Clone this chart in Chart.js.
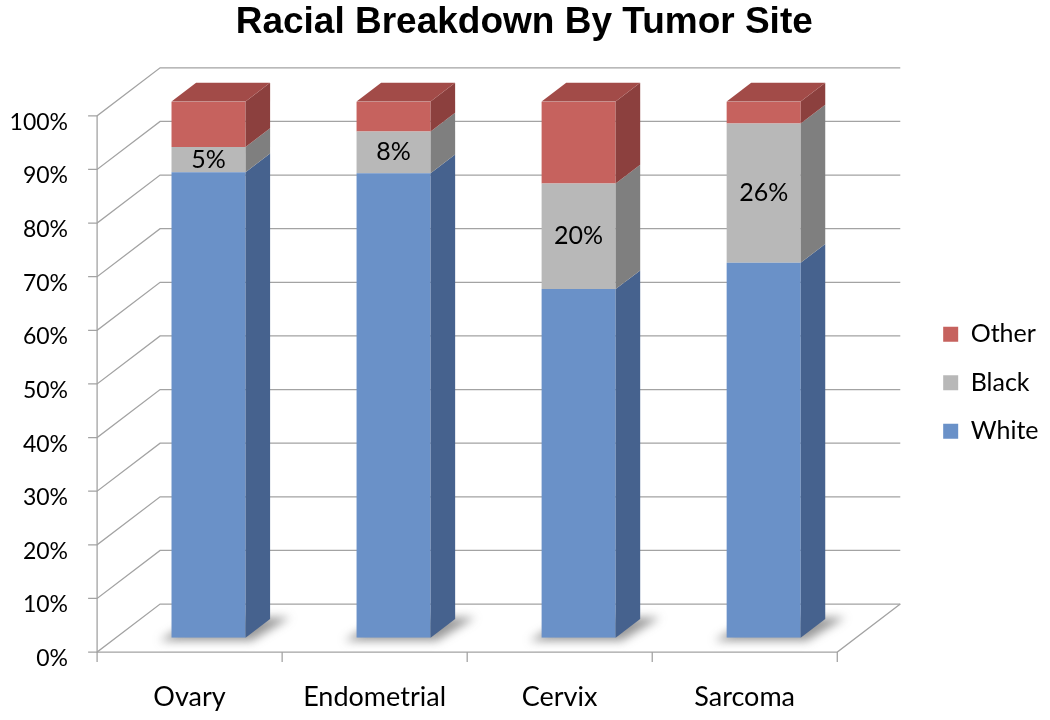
<!DOCTYPE html>
<html>
<head>
<meta charset="utf-8">
<script src="https://cdn.jsdelivr.net/npm/chart.js@4.4.1/dist/chart.umd.min.js"></script>
<style>
    body { margin: 0; background: #fff; }
    #wrap { width: 1050px; height: 720px; position: relative; }
</style>
</head>
<body>
<div id="wrap"><canvas id="chart"></canvas></div>
<script>
// Racial breakdown by tumor site (percent of patients)
const categories = ['Ovary', 'Endometrial', 'Cervix', 'Sarcoma'];
const whiteValues = [86.8, 86.6, 65.0, 69.9];
const blackValues = [4.7, 7.8, 19.7, 26.0];
const otherValues = [8.5, 5.6, 15.3, 4.1];
const yTickValues = [0, 10, 20, 30, 40, 50, 60, 70, 80, 90, 100];

// fake 3D: bars sit at depth 0.30 of the floor, 0.39 deep
const depth = { dx: 63, dy: -48, bar: 0.30, barDepth: 0.39 };
const sideColors = ['#46628e', '#7f7f7f', '#8c403e'];
const topColors = ['#5677a8', '#9a9a9a', '#a24b48'];

function pt(x, y, z) {
    return [x + (z - depth.bar) * depth.dx, y + (z - depth.bar) * depth.dy];
}

function poly(ctx, pts, fill) {
    ctx.beginPath();
    ctx.moveTo(pts[0][0], pts[0][1]);
    pts.slice(1).forEach(p => ctx.lineTo(p[0], p[1]));
    ctx.closePath();
    ctx.fillStyle = fill;
    ctx.fill();
}

const frame3d = {
    id: 'frame3d',
    beforeDatasetsDraw(chart) {
        const { ctx, chartArea: a, scales: { x, y } } = chart;
        ctx.save();
        ctx.strokeStyle = '#a3a3a3';
        ctx.lineWidth = 1.3;

        // wall grid lines with their left-side diagonals
        yTickValues.forEach(v => {
            const py = y.getPixelForValue(v);
            const f = pt(a.left, py, 0), b = pt(a.left, py, 1), r = pt(a.right, py, 1);
            ctx.beginPath();
            ctx.moveTo(f[0] - 9, f[1]);
            ctx.lineTo(f[0], f[1]);
            ctx.lineTo(b[0], b[1]);
            ctx.lineTo(r[0], r[1]);
            ctx.stroke();
        });

        // front axis + floor edges
        const y0 = y.getPixelForValue(0), y100 = y.getPixelForValue(100);
        const p1 = pt(a.left, y100, 0), p2 = pt(a.left, y0, 0), p3 = pt(a.right, y0, 0), p4 = pt(a.right, y0, 1);
        ctx.beginPath();
        ctx.moveTo(p1[0], p1[1]);
        ctx.lineTo(p2[0], p2[1]);
        ctx.lineTo(p3[0], p3[1]);
        ctx.lineTo(p4[0], p4[1]);
        ctx.stroke();

        // category tick marks under the floor
        const n = categories.length;
        for (let i = 0; i <= n; i++) {
            const p = pt(a.left + i * a.width / n, y0, 0);
            ctx.beginPath();
            ctx.moveTo(p[0], p[1]);
            ctx.lineTo(p[0], p[1] + 10);
            ctx.stroke();
        }

        // soft shadows on the floor
        ctx.filter = 'blur(5px)';
        chart.getDatasetMeta(0).data.forEach(bar => {
            const x1 = bar.x - bar.width / 2, x2 = bar.x + bar.width / 2, yb = bar.base;
            poly(ctx, [pt(x1 - 12, yb + 3, 0.3), pt(x2 + 6, yb + 3, 0.3),
                       pt(x2 + 18, yb, 0.72), pt(x1, yb, 0.72)], 'rgba(70,70,70,0.55)');
        });
        ctx.restore();
    },
    afterDatasetsDraw(chart) {
        const ctx = chart.ctx;
        const ddx = depth.dx * depth.barDepth, ddy = depth.dy * depth.barDepth;
        const last = chart.data.datasets.length - 1;
        ctx.save();
        chart.data.datasets.forEach((ds, di) => {
            chart.getDatasetMeta(di).data.forEach(bar => {
                const x1 = bar.x - bar.width / 2, x2 = bar.x + bar.width / 2;
                const top = Math.min(bar.y, bar.base), bottom = Math.max(bar.y, bar.base);
                poly(ctx, [[x2, top], [x2, bottom], [x2 + ddx, bottom + ddy], [x2 + ddx, top + ddy]], sideColors[di]);
                if (di === last) {
                    poly(ctx, [[x1, top], [x2, top], [x2 + ddx, top + ddy], [x1 + ddx, top + ddy]], topColors[di]);
                }
            });
        });

        // percent labels on the Black segment
        ctx.font = '25px Lato';
        ctx.fillStyle = '#000';
        ctx.textAlign = 'center';
        ctx.textBaseline = 'middle';
        chart.getDatasetMeta(1).data.forEach((bar, i) => {
            ctx.fillText(Math.round(blackValues[i]) + '%', bar.x, (bar.y + bar.base) / 2);
        });
        ctx.restore();
    }
};

Chart.defaults.color = '#000';
Chart.defaults.font.family = 'Lato';

new Chart(document.getElementById('chart'), {
    type: 'bar',
    data: {
        labels: categories,
        datasets: [
            { label: 'White', data: whiteValues, backgroundColor: '#6a91c8', borderWidth: 0 },
            { label: 'Black', data: blackValues, backgroundColor: '#b8b8b8', borderWidth: 0 },
            { label: 'Other', data: otherValues, backgroundColor: '#c6625e', borderWidth: 0 }
        ]
    },
    options: {
        responsive: true,
        maintainAspectRatio: false,
        animation: false,
        categoryPercentage: 1,
        barPercentage: 0.4,
        layout: { padding: { left: 0, right: 1.5, top: 0, bottom: 0 } },
        plugins: {
            title: {
                display: true,
                text: 'Racial Breakdown By Tumor Site',
                font: { family: 'Liberation Sans', size: 37, weight: 'bold' },
                color: '#000',
                padding: { top: 1, bottom: 56 }
            },
            legend: {
                position: 'right',
                reverse: true,
                title: { display: true, text: ' ', padding: 18, font: { size: 8 } },
                labels: { boxWidth: 15, boxHeight: 15, padding: 23.5, font: { size: 25 } }
            },
            tooltip: { enabled: false }
        },
        scales: {
            x: {
                stacked: true,
                afterFit(scale) { scale.height = 82.3; },
                grid: { display: false, drawTicks: false },
                border: { display: false },
                ticks: { font: { size: 27 }, padding: 43.3, labelOffset: -19 }
            },
            y: {
                stacked: true,
                min: 0,
                max: 100,
                afterFit(scale) { scale.width = 116; },
                grid: { display: false, drawTicks: false },
                border: { display: false },
                ticks: { stepSize: 10, font: { size: 23 }, padding: 48, labelOffset: 21,
                         callback: v => v + '%' }
            },
            yR: {
                position: 'right',
                afterFit(scale) { scale.width = 63.5; },
                grid: { display: false, drawTicks: false },
                border: { display: false },
                ticks: { display: false }
            }
        }
    },
    plugins: [frame3d]
});
</script>
</body>
</html>
